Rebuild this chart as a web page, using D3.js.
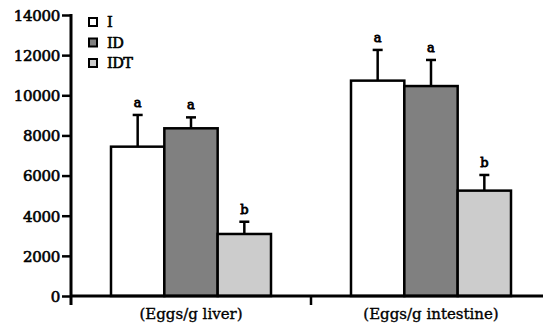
<!DOCTYPE html>
<html>
<head>
<meta charset="utf-8">
<script src="https://cdn.jsdelivr.net/npm/d3@7"></script>
<style>
  html, body { margin: 0; padding: 0; background: #fff; }
  svg { display: block; }
</style>
</head>
<body>
<svg id="chart" width="543" height="332"></svg>
<script>
const categories = ["(Eggs/g liver)", "(Eggs/g intestine)"];
const seriesNames = ["I", "ID", "IDT"];
const seriesColors = ["#ffffff", "#808080", "#cccccc"];
const meanI   = [7440, 10730];
const meanID  = [8355, 10460];
const meanIDT = [3090, 5250];
const sdI   = [1580, 1530];
const sdID  = [545, 1300];
const sdIDT = [610, 780];
const lettersI   = ["a", "a"];
const lettersID  = ["a", "a"];
const lettersIDT = ["b", "b"];
const yTicks = [0, 2000, 4000, 6000, 8000, 10000, 12000, 14000];

(function () {
const FONT = "'DejaVu Serif', serif";
const means = [meanI, meanID, meanIDT];
const sds = [sdI, sdID, sdIDT];
const letters = [lettersI, lettersID, lettersIDT];

const svg = d3.select("#chart").style("font-family", FONT);
const mLeft = 71, mBottom = 296, mTop = 15;

const y = d3.scaleLinear().domain([0, 14000]).range([mBottom, mTop]);
const x = d3.scaleBand().domain(categories).range([mLeft, 551]).padding(0);
const xs = d3.scaleBand().domain(seriesNames).range([40, 200]).padding(0);

function boldish(sel, w) {
  sel.style("font-family", FONT).style("font-weight", "normal")
    .attr("fill", "#000").attr("stroke", "#000").attr("stroke-width", w).attr("paint-order", "stroke");
}

const data = [];
categories.forEach((c, ci) => {
  seriesNames.forEach((s, si) => {
    data.push({c, s, si, v: means[si][ci], sd: sds[si][ci], l: letters[si][ci]});
  });
});

// bars
svg.append("g").selectAll("rect").data(data).join("rect")
  .attr("x", d => x(d.c) + xs(d.s))
  .attr("y", d => y(d.v))
  .attr("width", xs.bandwidth())
  .attr("height", d => y(0) - y(d.v))
  .attr("fill", d => seriesColors[d.si])
  .attr("stroke", "#000")
  .attr("stroke-width", 2.5);

// error bars
const eb = svg.append("g").attr("stroke", "#000").attr("stroke-width", 2.5);
data.forEach(d => {
  const cx = x(d.c) + xs(d.s) + xs.bandwidth() / 2;
  eb.append("line").attr("x1", cx).attr("x2", cx).attr("y1", y(d.v)).attr("y2", y(d.v + d.sd));
  eb.append("line").attr("x1", cx - 5).attr("x2", cx + 5).attr("y1", y(d.v + d.sd)).attr("y2", y(d.v + d.sd));
});

// letters
svg.append("g").selectAll("text").data(data).join("text")
  .attr("x", d => x(d.c) + xs(d.s) + xs.bandwidth() / 2)
  .attr("y", d => y(d.v + d.sd) - 8)
  .attr("text-anchor", "middle")
  .style("font-size", "13px")
  .text(d => d.l)
  .call(boldish, 0.8);

// y axis
const yAxis = d3.axisLeft(y).tickValues(yTicks).tickSize(9).tickPadding(2).tickSizeOuter(0).tickFormat(d3.format("d"));
const gy = svg.append("g").attr("transform", `translate(${mLeft},0)`).call(yAxis);
gy.select(".domain").remove();
gy.attr("font-family", null).attr("font-size", null);
gy.selectAll(".tick line").attr("stroke", "#000").attr("stroke-width", 2.5);
gy.selectAll(".tick text").style("font-size", "15px").style("letter-spacing", "-0.3px").attr("dy", "0.36em").call(boldish, 0.6);
svg.append("line").attr("x1", mLeft).attr("x2", mLeft).attr("y1", mTop - 1).attr("y2", 305)
  .attr("stroke", "#000").attr("stroke-width", 3);

// x axis
const xAxis = d3.axisBottom(x).tickSize(0).tickPadding(0);
const gx = svg.append("g").attr("transform", `translate(0,${mBottom})`).call(xAxis);
gx.select(".domain").remove();
gx.attr("font-family", null).attr("font-size", null);
gx.selectAll(".tick text").style("font-size", "15px").attr("dy", null).attr("y", 23).call(boldish, 0.35);
svg.append("line").attr("x1", mLeft).attr("x2", 551).attr("y1", mBottom).attr("y2", mBottom)
  .attr("stroke", "#000").attr("stroke-width", 3);
// category separators
svg.append("g").selectAll("line").data(categories.slice(1)).join("line")
  .attr("x1", d => x(d)).attr("x2", d => x(d))
  .attr("y1", mBottom).attr("y2", 305)
  .attr("stroke", "#000").attr("stroke-width", 2.5);

// legend
const lg = svg.append("g");
seriesNames.forEach((s, i) => {
  const cy = 22 + i * 20.5;
  lg.append("rect").attr("x", 89).attr("y", cy - 4).attr("width", 8).attr("height", 8)
    .attr("fill", seriesColors[i]).attr("stroke", "#000").attr("stroke-width", 2);
  lg.append("text").attr("x", 107).attr("y", cy + 5.3)
    .style("font-size", "14.5px").style("letter-spacing", "-0.5px").text(s).call(boldish, 0.6);
});
})();
</script>
</body>
</html>
